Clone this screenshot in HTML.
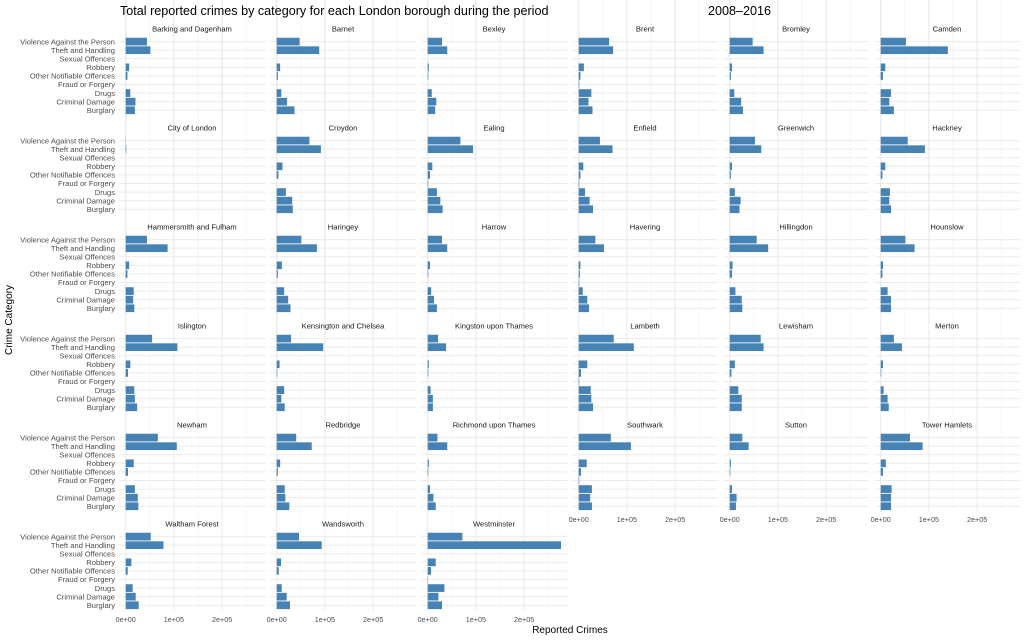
<!DOCTYPE html>
<html><head><meta charset="utf-8"><style>
html,body{margin:0;padding:0;background:#fff;}
svg{display:block;font-family:"Liberation Sans",Arial,sans-serif;}
.s{font-size:7.6px;fill:#1a1a1a;text-anchor:middle;}
.y{font-size:7.6px;fill:#4d4d4d;text-anchor:end;}
.x{font-size:7.2px;fill:#4d4d4d;text-anchor:middle;}
</style></head><body>
<svg id="c" width="1024" height="640" viewBox="0 0 1024 640" xmlns="http://www.w3.org/2000/svg">
<g id="grid"></g><g id="bars"></g>
<text x="120" y="15" style="font-size:12.6px" fill="#000">Total reported crimes by category for each London borough during the period</text>
<text x="708" y="15" style="font-size:12.6px" fill="#000">2008–2016</text>
<text x="570" y="633" style="font-size:10px;text-anchor:middle" fill="#000">Reported Crimes</text>
<text transform="translate(12,320) rotate(-90)" style="font-size:10px;text-anchor:middle" fill="#000">Crime Category</text>
<g>
<text class="s" x="192" y="31.5">Barking and Dagenham</text>
<text class="s" x="343" y="31.5">Barnet</text>
<text class="s" x="494" y="31.5">Bexley</text>
<text class="s" x="645" y="31.5">Brent</text>
<text class="s" x="796" y="31.5">Bromley</text>
<text class="s" x="947" y="31.5">Camden</text>
<text class="s" x="192" y="130.5">City of London</text>
<text class="s" x="343" y="130.5">Croydon</text>
<text class="s" x="494" y="130.5">Ealing</text>
<text class="s" x="645" y="130.5">Enfield</text>
<text class="s" x="796" y="130.5">Greenwich</text>
<text class="s" x="947" y="130.5">Hackney</text>
<text class="s" x="192" y="229.5">Hammersmith and Fulham</text>
<text class="s" x="343" y="229.5">Haringey</text>
<text class="s" x="494" y="229.5">Harrow</text>
<text class="s" x="645" y="229.5">Havering</text>
<text class="s" x="796" y="229.5">Hillingdon</text>
<text class="s" x="947" y="229.5">Hounslow</text>
<text class="s" x="192" y="328.5">Islington</text>
<text class="s" x="343" y="328.5">Kensington and Chelsea</text>
<text class="s" x="494" y="328.5">Kingston upon Thames</text>
<text class="s" x="645" y="328.5">Lambeth</text>
<text class="s" x="796" y="328.5">Lewisham</text>
<text class="s" x="947" y="328.5">Merton</text>
<text class="s" x="192" y="427.5">Newham</text>
<text class="s" x="343" y="427.5">Redbridge</text>
<text class="s" x="494" y="427.5">Richmond upon Thames</text>
<text class="s" x="645" y="427.5">Southwark</text>
<text class="s" x="796" y="427.5">Sutton</text>
<text class="s" x="947" y="427.5">Tower Hamlets</text>
<text class="s" x="192" y="526.5">Waltham Forest</text>
<text class="s" x="343" y="526.5">Wandsworth</text>
<text class="s" x="494" y="526.5">Westminster</text>
</g>
<g>
<text class="y" x="115" y="44.3">Violence Against the Person</text><text class="y" x="115" y="52.9">Theft and Handling</text><text class="y" x="115" y="61.5">Sexual Offences</text><text class="y" x="115" y="70.1">Robbery</text><text class="y" x="115" y="78.6">Other Notifiable Offences</text><text class="y" x="115" y="87.2">Fraud or Forgery</text><text class="y" x="115" y="95.8">Drugs</text><text class="y" x="115" y="104.4">Criminal Damage</text><text class="y" x="115" y="113">Burglary</text>
<text class="y" x="115" y="143.3">Violence Against the Person</text><text class="y" x="115" y="151.9">Theft and Handling</text><text class="y" x="115" y="160.5">Sexual Offences</text><text class="y" x="115" y="169.1">Robbery</text><text class="y" x="115" y="177.6">Other Notifiable Offences</text><text class="y" x="115" y="186.2">Fraud or Forgery</text><text class="y" x="115" y="194.8">Drugs</text><text class="y" x="115" y="203.4">Criminal Damage</text><text class="y" x="115" y="212">Burglary</text>
<text class="y" x="115" y="242.3">Violence Against the Person</text><text class="y" x="115" y="250.9">Theft and Handling</text><text class="y" x="115" y="259.5">Sexual Offences</text><text class="y" x="115" y="268.1">Robbery</text><text class="y" x="115" y="276.6">Other Notifiable Offences</text><text class="y" x="115" y="285.2">Fraud or Forgery</text><text class="y" x="115" y="293.8">Drugs</text><text class="y" x="115" y="302.4">Criminal Damage</text><text class="y" x="115" y="311">Burglary</text>
<text class="y" x="115" y="341.3">Violence Against the Person</text><text class="y" x="115" y="349.9">Theft and Handling</text><text class="y" x="115" y="358.5">Sexual Offences</text><text class="y" x="115" y="367.1">Robbery</text><text class="y" x="115" y="375.6">Other Notifiable Offences</text><text class="y" x="115" y="384.2">Fraud or Forgery</text><text class="y" x="115" y="392.8">Drugs</text><text class="y" x="115" y="401.4">Criminal Damage</text><text class="y" x="115" y="410">Burglary</text>
<text class="y" x="115" y="440.3">Violence Against the Person</text><text class="y" x="115" y="448.9">Theft and Handling</text><text class="y" x="115" y="457.5">Sexual Offences</text><text class="y" x="115" y="466.1">Robbery</text><text class="y" x="115" y="474.6">Other Notifiable Offences</text><text class="y" x="115" y="483.2">Fraud or Forgery</text><text class="y" x="115" y="491.8">Drugs</text><text class="y" x="115" y="500.4">Criminal Damage</text><text class="y" x="115" y="509">Burglary</text>
<text class="y" x="115" y="539.3">Violence Against the Person</text><text class="y" x="115" y="547.9">Theft and Handling</text><text class="y" x="115" y="556.5">Sexual Offences</text><text class="y" x="115" y="565.1">Robbery</text><text class="y" x="115" y="573.6">Other Notifiable Offences</text><text class="y" x="115" y="582.2">Fraud or Forgery</text><text class="y" x="115" y="590.8">Drugs</text><text class="y" x="115" y="599.4">Criminal Damage</text><text class="y" x="115" y="608">Burglary</text>
</g>
<g>
<text class="x" x="578.7" y="522">0e+00</text><text class="x" x="626.9" y="522">1e+05</text><text class="x" x="675.1" y="522">2e+05</text>
<text class="x" x="729.7" y="522">0e+00</text><text class="x" x="777.9" y="522">1e+05</text><text class="x" x="826.1" y="522">2e+05</text>
<text class="x" x="880.7" y="522">0e+00</text><text class="x" x="928.9" y="522">1e+05</text><text class="x" x="977.1" y="522">2e+05</text>
<text class="x" x="125.7" y="622">0e+00</text><text class="x" x="173.9" y="622">1e+05</text><text class="x" x="222.1" y="622">2e+05</text>
<text class="x" x="276.7" y="622">0e+00</text><text class="x" x="324.9" y="622">1e+05</text><text class="x" x="373.1" y="622">2e+05</text>
<text class="x" x="427.7" y="622">0e+00</text><text class="x" x="475.9" y="622">1e+05</text><text class="x" x="524.1" y="622">2e+05</text>
</g>
</svg>
<script>
var k=1/1.742;
// V,T,S,R,O,F,D,CD,B  (rows 1-5 in zoom units)
var D=[
[37,43,0,6,3,0,8,17,16],[40,74,0,6,2,0,8,18,31],[25,34,0,2,1,0,7,15,13],[53,60,0,9,3,1,22,17,24],[40,59,0,4,2,0,8,20,23],[44,117,0,8,4,0,18,15,23],
[0.3,1,0,0,0,0,0,0,0],[57,77,0,10,3,0,16,27,28],[57,79,0,8,4,1,16,22,26],[37,59,0,8,3,1,11,19,25],[44,55,0,4,2,0,9,19,17],[47,77,0,8,3,0,16,15,18],
[37,73,0,6,3,0,14,13,15],[43,70,0,9,2,0,13,20,24],[25,34,0,4,1,0,6,11,16],[29,44,0,3,2,1,7,15,18],[47,67,0,5,4,0,10,21,22],[43,59,0,4,3,0,12,18,18],
[46,90,0,8,4,0,15,16,20],[25,81,0,5,1,0,13,8,14],[18,32,0,2,1,0,5,9,9],[61,96,0,15,4,1,21,22,25],[54,59,0,9,3,0,15,21,21],[23,37,0,4,1,0,5,12,14],
[56,89,0,14,4,0,16,21,22],[34,61,0,6,2,0,14,15,22],[17,34,0,2,1,0,4,10,14],[56,91,0,14,4,1,23,20,23],[22,33,0,2,1,0,4,12,11],[51,73,0,9,4,0,19,18,18]];
var R6=[[25,37.7,0,5.7,2,0,7,10,13],[22.3,45,0,4.3,2,0,5,10,13.3],[34.7,133.3,0,8,3.3,0.4,16.7,10.7,14.3]];
var g='',b='',st=8.58;
for(var i=0;i<33;i++){
 var r=Math.floor(i/6),c=i%6,x0=125.7+151*c,vy=41.6+99*r,L=x0-6.5,top=vy-5.2,bot=vy+68.64+5.2;
 [24.1,72.3,120.5].forEach(function(o){g+='<line x1="'+(x0+o)+'" x2="'+(x0+o)+'" y1="'+top+'" y2="'+bot+'" stroke="#f2f2f2" stroke-width="0.5"/>';});
 [0,48.2,96.4].forEach(function(o){g+='<line x1="'+(x0+o)+'" x2="'+(x0+o)+'" y1="'+top+'" y2="'+bot+'" stroke="#ebebeb" stroke-width="1"/>';});
 for(var j=0;j<9;j++){var y=vy+st*j;g+='<line x1="'+L+'" x2="'+(L+146)+'" y1="'+y+'" y2="'+y+'" stroke="#ebebeb" stroke-width="1"/>';
  var v=i<30?D[i][j]*k:R6[i-30][j]; if(v>0)b+='<rect x="'+x0+'" y="'+(y-3.86)+'" width="'+v+'" height="7.72" fill="#4682b4"/>';}
}
document.getElementById('grid').innerHTML=g;document.getElementById('bars').innerHTML=b;
</script>
</body></html>
